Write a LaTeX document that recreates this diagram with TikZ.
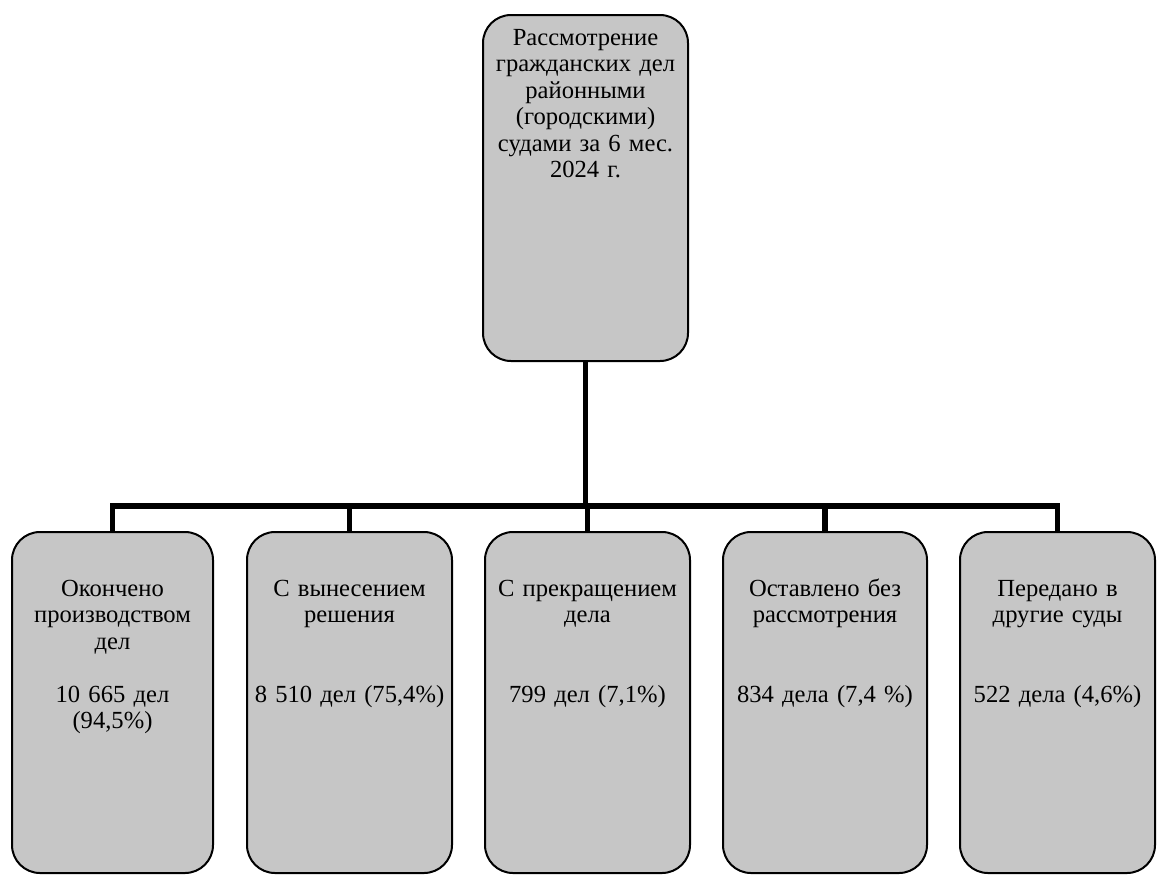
\documentclass[tikz,border=0pt]{standalone}
\usepackage{fontspec}
\setmainfont{Liberation Serif}
\usetikzlibrary{positioning}
\definecolor{cScan}{RGB}{198,198,198}

\begin{document}
\begin{tikzpicture}[x=0.5pt, y=-0.5pt,
  casebox/.style={draw=black, line width=1pt, fill=cScan, rounded corners=14pt, inner sep=0pt},
  casetext/.style={anchor=base, text width=100pt, align=center, inner sep=0pt,
    font=\fontsize{12.3}{13.25}\selectfont},
  link/.style={line width=2.6pt}]
\useasboundingbox (0,0) rectangle (1157,874);
\node[casebox, anchor=north, minimum width=102.5pt, minimum height=173pt] (root) at (585.5,14) {};
\node[casetext] (roottext) at ([yshift=-15.5pt]root.north)
  {Рассмотрение\\гражданских дел\\районными\\(городскими)\\судами за 6 мес.\\2024 г.};
\foreach \i/\x/\w/\t in {1/112.5/201/{Окончено\\производством\\дел\\[13.25pt]10 665 дел\\(94,5\%)},
                         2/349.5/205/{С вынесением\\решения\\[26.5pt]8 510 дел (75,4\%)},
                         3/587.5/205/{С прекращением\\дела\\[26.5pt]799 дел (7,1\%)},
                         4/825/204/{Оставлено без\\рассмотрения\\[26.5pt]834 дела (7,4 \%)},
                         5/1057.5/195/{Передано в\\другие суды\\[26.5pt]522 дела (4,6\%)}} {
  \node[casebox, anchor=north, minimum width=\w*0.5pt, minimum height=170.5pt] (b\i) at (\x,531) {};
  \node[casetext] (t\i) at ([yshift=-32.5pt]b\i.north) {\t};
}
\coordinate (hub) at (585.5,506);
\draw[link] (root.south) -- (hub);
\draw[link] (b1.north) |- (b5.north |- hub) -- (b5.north);
\foreach \i in {2,3,4} { \draw[link] (b\i.north) -- (b\i.north |- hub); }
\end{tikzpicture}
\end{document}
